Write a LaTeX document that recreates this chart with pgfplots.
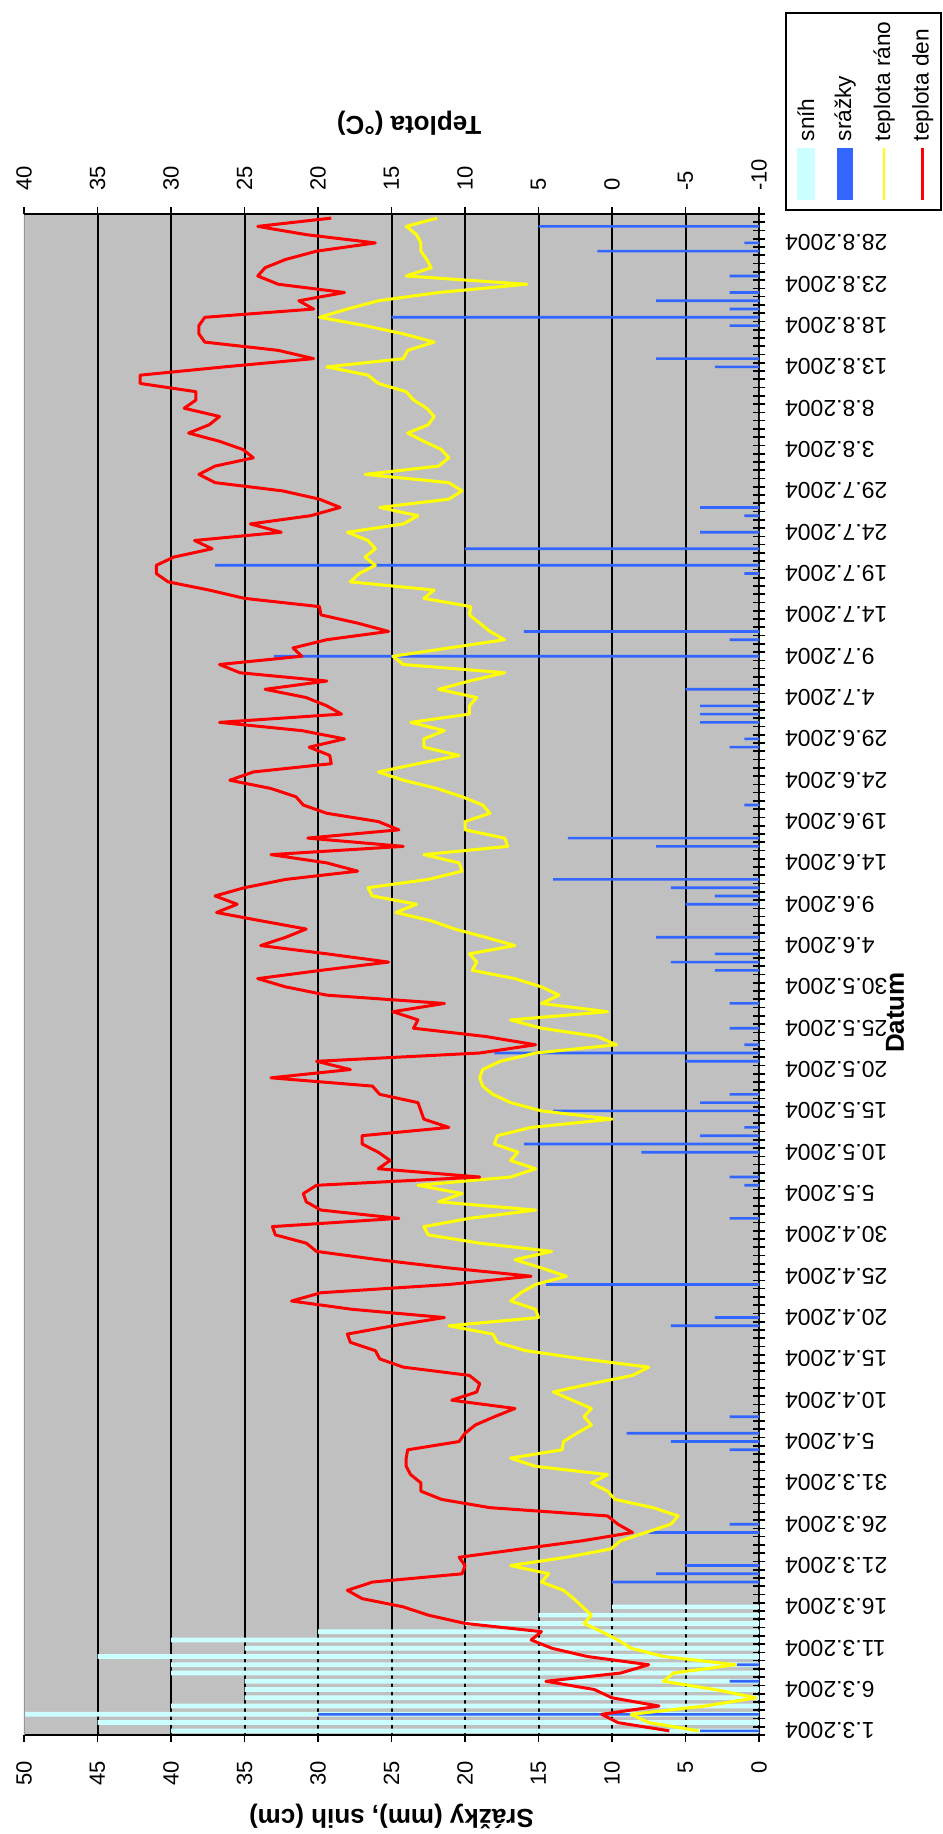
\documentclass[border=0pt]{standalone}
\usepackage{pgfplots}
\pgfplotsset{compat=1.18}
\usepackage{pgfplotstable}
\usepackage{fontspec}
\setmainfont{Liberation Sans}
\definecolor{snowc}{HTML}{CCFFFF}
\definecolor{rainc}{HTML}{3366FF}
\definecolor{bgc}{HTML}{C0C0C0}
\definecolor{yelc}{HTML}{FFFF00}
\definecolor{redc}{HTML}{FF0000}
\definecolor{edgec}{HTML}{969696}

\pgfplotstableread{
i S P M D
0 40 4 -5.9 -3.9
1 45 0 -2.5 -0.4
2 50 30 -1.3 0.7
3 40 0 -6.3 -3.2
4 35 0 -9.8 0.0
5 35 0 -7.0 1.2
6 35 2 -3.5 4.5
7 40 0 -4.2 -0.6
8 40 1.5 -8.4 -2.5
9 45 0 -3.5 1.7
10 35 0 -1.3 4.1
11 40 0 -0.4 5.5
12 30 0 0.7 4.8
13 20 0 1.9 10.0
14 15 0 1.4 12.5
15 10 0 2.0 14.2
16 0 0 2.6 17.0
17 0 0 3.3 18.0
18 0 10 4.8 16.3
19 0 7 4.3 10.2
20 0 5 6.9 10.0
21 0 0 3.1 10.4
22 0 0 0.1 6.2
23 0 0 -0.6 2.0
24 0 7.5 -2.3 -1.4
25 0 2 -4.0 -0.4
26 0 0 -4.5 0.3
27 0 0 -2.8 8.3
28 0 0 -0.2 11.6
29 0 0 0.3 13.0
30 0 0 1.4 13.0
31 0 0 0.3 13.7
32 0 0 5.2 14.0
33 0 0 6.9 14.0
34 0 2 3.4 13.9
35 0 6 3.3 10.4
36 0 9 2.4 10.0
37 0 0 1.4 9.3
38 0 2 1.9 8.0
39 0 0 1.4 6.6
40 0 0 2.7 10.9
41 0 0 4.0 9.2
42 0 0 1.4 9.0
43 0 0 -1.4 9.7
44 0 0 -2.5 14.2
45 0 0 2.0 15.8
46 0 0 5.9 16.1
47 0 0 7.8 17.8
48 0 0 8.1 18.0
49 0 6 11.1 14.9
50 0 3 5.0 11.4
51 0 0 5.2 17.7
52 0 0 6.9 21.8
53 0 0 6.2 19.8
54 0 14.5 5.2 11.1
55 0 0 3.1 5.5
56 0 0 4.8 11.1
57 0 0 6.6 15.9
58 0 0 4.1 20.1
59 0 0 9.0 20.8
60 0 0 12.5 22.9
61 0 0 12.8 23.1
62 0 2 9.7 14.5
63 0 0 5.2 19.8
64 0 0 11.8 20.8
65 0 0 10.2 21.0
66 0 1 13.2 20.1
67 0 2 6.9 9.0
68 0 0 5.2 15.9
69 0 0 6.9 15.1
70 0 8 6.4 15.9
71 0 16 8.0 17.0
72 0 4 7.8 17.0
73 0 1 5.5 11.1
74 0 0 0.0 12.8
75 0 14 4.8 13.0
76 0 4 6.9 13.2
77 0 2 8.1 15.8
78 0 0 8.8 16.3
79 0 0 9.0 23.2
80 0 0 8.8 17.8
81 0 5 7.6 20.1
82 0 18 5.2 9.0
83 0 1 -0.3 5.2
84 0 0 1.0 8.6
85 0 2 4.8 13.5
86 0 0 6.9 13.2
87 0 0 0.3 14.9
88 0 2 4.8 11.4
89 0 0 3.6 19.4
90 0 0 4.8 22.2
91 0 0 6.6 24.1
92 0 3 9.5 19.8
93 0 6 9.2 15.2
94 0 3 9.7 19.4
95 0 0 6.6 23.9
96 0 7 8.6 22.2
97 0 0 10.7 20.8
98 0 0 12.3 23.9
99 0 0 14.7 26.9
100 0 5 13.3 25.5
101 0 3 16.3 27.0
102 0 6 16.6 25.0
103 0 14 12.5 22.2
104 0 0 10.2 17.3
105 0 0 10.4 19.4
106 0 0 12.8 23.2
107 0 7 7.1 14.2
108 0 13 7.3 20.7
109 0 0 10.0 14.5
110 0 0 10.0 15.9
111 0 0 8.3 19.4
112 0 1 8.8 21.0
113 0 0 10.2 21.5
114 0 0 11.9 23.2
115 0 0 14.2 26.0
116 0 0 15.9 24.4
117 0 0 13.2 19.1
118 0 0 10.4 19.2
119 0 2 12.8 20.6
120 0 1 12.8 18.2
121 0 0 11.4 21.1
122 0 4 13.7 26.7
123 0 4 9.7 18.4
124 0 4 9.7 19.4
125 0 0 9.2 20.8
126 0 5 11.8 23.6
127 0 0 9.7 19.4
128 0 0 7.3 25.3
129 0 0 14.2 26.7
130 0 33 14.9 21.1
131 0 0 11.1 21.7
132 0 2 7.3 19.4
133 0 16 8.3 15.2
134 0 0 9.0 17.3
135 0 0 9.7 19.8
136 0 0 9.6 19.9
137 0 0 12.8 25.0
138 0 0 12.1 27.4
139 0 0 17.8 30.2
140 0 1 17.2 31.0
141 0 37 16.1 31.0
142 0 0 16.8 29.8
143 0 20 16.1 27.2
144 0 0 16.6 28.4
145 0 4 18.0 22.5
146 0 0 14.2 24.6
147 0 1 13.2 20.5
148 0 4 15.8 18.5
149 0 0 11.1 19.9
150 0 0 10.2 22.4
151 0 0 11.1 27.0
152 0 0 16.8 28.1
153 0 0 11.8 27.0
154 0 0 11.1 24.4
155 0 0 11.6 25.1
156 0 0 12.8 26.7
157 0 0 13.9 28.8
158 0 0 12.5 27.4
159 0 0 12.1 26.7
160 0 0 12.6 29.1
161 0 0 13.5 28.3
162 0 0 14.0 28.3
163 0 0 15.9 32.1
164 0 0 16.6 32.1
165 0 3 19.4 26.4
166 0 7 14.2 20.3
167 0 0 13.9 22.7
168 0 0 12.1 27.7
169 0 0 14.2 28.1
170 0 2 16.8 28.1
171 0 25 19.9 27.7
172 0 2 18.0 20.3
173 0 7 15.9 21.3
174 0 2 11.8 18.2
175 0 0 5.8 22.7
176 0 2 14.0 24.1
177 0 0 12.3 23.6
178 0 0 12.6 22.2
179 0 11 13.0 20.1
180 0 1 13.0 16.1
181 0 0 13.3 20.8
182 0 15 14.0 24.1
183 0 0 11.9 19.1
}\data

\begin{document}
\begin{tikzpicture}
\path[use as bounding box] (0,0) rectangle (282.9pt,550.2pt);
\begin{axis}[
  at={(7.2pt,29.7pt)}, anchor=south west, scale only axis,
  width=220.5pt, height=456.3pt,
  xmin=-50, xmax=0, ymin=-0.5, ymax=183.5,
  axis background/.style={fill=bgc},
  axis x line*=bottom, axis y line*=right,
  axis line style={-, black, line width=0.5pt},
  tick align=outside, major tick length=2pt, minor tick length=3.6pt,
  tick style={black, line width=0.5pt},
  xtick={-50,-45,...,0},
  xticklabels={50,45,40,35,30,25,20,15,10,5,0},
  xticklabel style={rotate=90, anchor=east, font=\fontsize{6.6}{7.9}\selectfont},
  xticklabel shift=2.3pt,
  extra x ticks={-45,-40,...,-5},
  extra x tick labels={},
  extra x tick style={grid=major, major tick length=0pt},
  major grid style={black, line width=0.6pt},
  ytick={0,5,...,180},
  yticklabels={1.3.2004,6.3.2004,11.3.2004,16.3.2004,21.3.2004,26.3.2004,31.3.2004,5.4.2004,10.4.2004,15.4.2004,20.4.2004,25.4.2004,30.4.2004,5.5.2004,10.5.2004,15.5.2004,20.5.2004,25.5.2004,30.5.2004,4.6.2004,9.6.2004,14.6.2004,19.6.2004,24.6.2004,29.6.2004,4.7.2004,9.7.2004,14.7.2004,19.7.2004,24.7.2004,29.7.2004,3.8.2004,8.8.2004,13.8.2004,18.8.2004,23.8.2004,28.8.2004},
  yticklabel style={rotate=180, anchor=east, font=\fontsize{6.9}{8.3}\selectfont},
  yticklabel shift=2.3pt,
  major y tick style={draw=none},
  minor ytick={-0.5,0.5,...,183.5},
  minor y tick style={xshift=-1.8pt},
  xlabel={Srážky (mm), snih (cm)},
  xlabel style={at={(axis description cs:0.5,-0.0539)}, anchor=center, rotate=180, font=\bfseries\fontsize{7.8}{9.4}\selectfont},
  ylabel={Datum},
  ylabel style={at={(axis description cs:1.185,0.475)}, anchor=center, font=\bfseries\fontsize{7.8}{9.4}\selectfont},
]
\addplot[xbar, bar width=0.57, bar shift=0pt, fill=snowc, draw=none] table[x expr=-\thisrow{S}, y=i]{\data};
\addplot[xbar, bar width=0.32, bar shift=0pt, fill=rainc, draw=none] table[x expr=-\thisrow{P}, y=i]{\data};
\draw[edgec, line width=0.6pt] (axis cs:-50,-0.5) -- (axis cs:-50,183.5);
\end{axis}
\begin{axis}[
  at={(7.2pt,29.7pt)}, anchor=south west, scale only axis,
  width=220.5pt, height=456.3pt,
  xmin=-40, xmax=10, ymin=-0.5, ymax=183.5,
  axis x line*=top, axis y line=none,
  axis line style={-, black, line width=0.5pt},
  tick align=outside, major tick length=2pt,
  tick style={black, line width=0.5pt},
  xtick={-40,-35,...,10},
  xticklabels={40,35,30,25,20,15,10,5,0,-5,-10},
  xticklabel style={rotate=90, anchor=west, font=\fontsize{6.6}{7.9}\selectfont},
  xticklabel shift=1.4pt,
  ytick=\empty,
  xlabel={Teplota (°C)},
  xlabel style={at={(axis description cs:0.524,1.0598)}, anchor=center, rotate=180, font=\bfseries\fontsize{7.8}{9.4}\selectfont},
]
\addplot[yelc, line width=0.9pt, line join=round, mark=none] table[x expr=-\thisrow{M}, y=i]{\data};
\addplot[redc, line width=0.9pt, line join=round, mark=none] table[x expr=-\thisrow{D}, y=i]{\data};
\end{axis}
% legend (rotated like the rest of the chart)
\draw[black, line width=0.5pt, fill=white] (235.8pt,487.2pt) rectangle (282.3pt,546.3pt);
\fill[snowc] (239.1pt,490.2pt) rectangle (244.5pt,505.8pt);
\fill[rainc] (251.1pt,490.2pt) rectangle (255.9pt,505.8pt);
\draw[yelc, line width=0.8pt] (265.2pt,490.2pt) -- (265.2pt,505.8pt);
\draw[redc, line width=0.8pt] (276.8pt,490.2pt) -- (276.8pt,505.8pt);
\begin{scope}[every node/.style={rotate=90, anchor=west, inner sep=0pt, font=\fontsize{6.8}{8}\selectfont}]
\node at (241.8pt,507.6pt) {sníh};
\node at (253.5pt,507.6pt) {srážky};
\node at (265.2pt,507.6pt) {teplota ráno};
\node at (276.8pt,507.6pt) {teplota den};
\end{scope}
\end{tikzpicture}
\end{document}
